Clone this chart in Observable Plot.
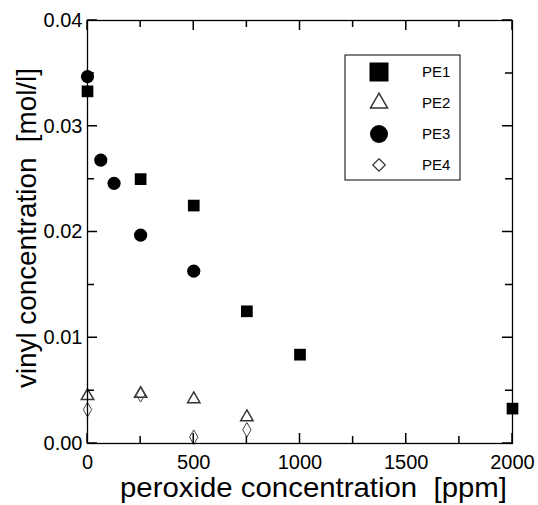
<!DOCTYPE html>
<html><head><meta charset="utf-8">
<script src="https://cdn.jsdelivr.net/npm/d3@7"></script>
<script src="https://cdn.jsdelivr.net/npm/@observablehq/plot@0.6"></script>
<style>body{margin:0;background:#fff} #chart svg{font-family:"Liberation Sans",Arial,sans-serif;}</style>
</head><body><div id="chart"></div>
<script>
const pe1X=[0,250,500,750,1000,2000];
const pe1Y=[0.0333,0.0250,0.0225,0.0125,0.0084,0.0033];
const pe2X=[0,250,500,750];
const pe2Y=[0.0045,0.0047,0.0042,0.0025];
const pe3X=[0,62.5,125,250,500];
const pe3Y=[0.0347,0.0268,0.0246,0.0197,0.0163];
const pe4X=[0,250,500,750];
const pe4Y=[0.0032,0.0046,0.0006,0.0013];
const seriesNames=["PE1","PE2","PE3","PE4"];
const xMajor=[0,500,1000,1500,2000];
const xMinor=[250,750,1250,1750];
const yMajor=[0,0.01,0.02,0.03,0.04];
const yMinor=[0.005,0.015,0.025,0.035];
const xTitle="peroxide concentration\u00a0 [ppm]";
const yTitle="vinyl concentration\u00a0 [mol/l]";

const W=538,H=505,mL=87,mR=26,mT=20,mB=62;
const MAJ=10, MIN=7;

const toRows=(xs,ys)=>xs.map((x,i)=>({x,y:ys[i]}));
const pe1=toRows(pe1X,pe1Y), pe2=toRows(pe2X,pe2Y), pe3=toRows(pe3X,pe3Y), pe4=toRows(pe4X,pe4Y);

const chart=Plot.plot({
  width:W,height:H,
  marginLeft:mL,marginRight:mR,marginTop:mT,marginBottom:mB,
  x:{domain:[0,2000]},
  y:{domain:[0,0.04]},
  marks:[
    Plot.dot(pe1,{x:"x",y:"y",symbol:"square",r:6.6,fill:"black",stroke:"none"}),
    Plot.dot(pe3,{x:"x",y:"y",symbol:"circle",r:6.6,fill:"black",stroke:"none"}),
    Plot.dot(pe2,{x:"x",y:"y",symbol:"triangle",r:4.6,fill:"none",stroke:"#333",strokeWidth:1.5}),
    Plot.dot(pe4,{x:"x",y:"y",symbol:"diamond",r:4.4,fill:"none",stroke:"#444",strokeWidth:1}),
    Plot.frame({stroke:"black",strokeWidth:1.3}),
    Plot.axisX(xMajor,{anchor:"bottom",tickSize:0,tickPadding:11,tickFormat:d=>String(d),fontSize:20,label:null}),
    Plot.axisY(yMajor,{anchor:"left",tickSize:0,tickPadding:5,tickFormat:d3.format(".2f"),fontSize:20,label:null})
  ]
});
document.getElementById("chart").appendChild(chart);

const svg=d3.select(chart);
const sx=chart.scale("x"), sy=chart.scale("y");
const x0=mL, x1=W-mR, y0=H-mB, y1=mT;
let dTicks="";
const addX=(vals,len)=>vals.forEach(v=>{
  const px=sx.apply(v);
  dTicks+=`M${px},${y0}V${y0-len}M${px},${y1}V${y1+len}`;
});
const addY=(vals,len)=>vals.forEach(v=>{
  const py=sy.apply(v);
  dTicks+=`M${x0},${py}H${x0+len}M${x1},${py}H${x1-len}`;
});
addX(xMajor,MAJ); addX(xMinor,MIN); addY(yMajor,MAJ); addY(yMinor,MIN);
svg.append("path").attr("d",dTicks).attr("fill","none").attr("stroke","#000").attr("stroke-width",1.5);

svg.append("text").attr("x",120).attr("y",497).attr("text-anchor","start")
  .attr("font-size",28).attr("fill","black")
  .attr("textLength",387).attr("lengthAdjust","spacingAndGlyphs").text(xTitle);
svg.append("text").attr("transform","translate(36,388) rotate(-90)").attr("text-anchor","start")
  .attr("font-size",28).attr("fill","black")
  .attr("textLength",320).attr("lengthAdjust","spacingAndGlyphs").text(yTitle);

// legend
const lg=svg.append("g");
lg.append("rect").attr("x",345).attr("y",55).attr("width",115).attr("height",125)
  .attr("fill","white").attr("stroke","black").attr("stroke-width",1);
const legendSym=[
  {t:d3.symbolSquare,s:19*19,fill:"black",stroke:"none",sw:0},
  {t:d3.symbolTriangle,s:125,fill:"none",stroke:"#333",sw:1.5},
  {t:d3.symbolCircle,s:Math.PI*81,fill:"black",stroke:"none",sw:0},
  {t:d3.symbolDiamond2,s:100,fill:"none",stroke:"#333",sw:1.2}
];
seriesNames.forEach((name,i)=>{
  const cy=72+i*31;
  lg.append("path").attr("transform",`translate(379,${cy})`)
    .attr("d",d3.symbol(legendSym[i].t,legendSym[i].s)())
    .attr("fill",legendSym[i].fill).attr("stroke",legendSym[i].stroke).attr("stroke-width",legendSym[i].sw);
  lg.append("text").attr("x",422).attr("y",cy).attr("dy","0.35em").attr("text-anchor","start")
    .attr("font-size",15).attr("fill","black").text(name);
});
</script></body></html>
